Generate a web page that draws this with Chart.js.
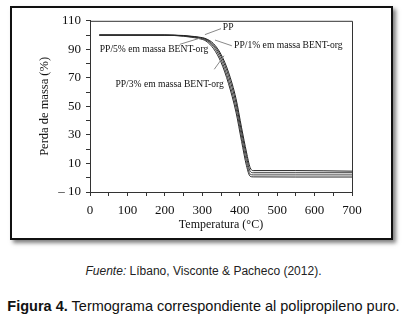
<!DOCTYPE html>
<html><head><meta charset="utf-8">
<script src="https://cdn.jsdelivr.net/npm/chart.js@4"></script>
<style>
body{margin:0;width:407px;height:315px;background:#fff;position:relative;overflow:hidden;}
#frame{position:absolute;left:10px;top:6px;width:379px;height:230px;border:2px solid #111;box-shadow:3px 3px 4px rgba(0,0,0,0.5);background:#fff;}
#frame canvas{display:block}
.cap1{position:absolute;left:0;width:407px;top:264px;text-align:center;font:12px "Liberation Sans",Arial,sans-serif;color:#222;white-space:nowrap;}
.cap2{position:absolute;left:0;width:407px;top:298px;text-align:center;font:14.5px "Liberation Sans",Arial,sans-serif;color:#111;white-space:nowrap;}
</style></head>
<body>
<div id="frame"><canvas id="c" width="379" height="230"></canvas></div>
<div class="cap1"><i>Fuente:</i> Líbano, Visconte &amp; Pacheco (2012).</div>
<div class="cap2"><b>Figura 4.</b> Termograma correspondiente al polipropileno puro.</div>
<script>
// ---- data ----
const temps = [25, 200, 250, 270, 290, 310, 330, 350, 370, 390, 405, 418, 428, 436, 550, 700];
const pp    = [100, 100, 99.7, 99.2, 98.6, 97.4, 94.0, 86.5, 74.0, 55.5, 35.0, 18.0, 7.0, 5.0, 5.0, 4.6];
const pp1   = [100, 100, 99.5, 99.0, 98.4, 97.0, 93.0, 85.0, 71.5, 52.5, 32.0, 15.0, 4.5, 3.5, 3.5, 3.5];
const pp3   = [100, 100, 99.4, 98.8, 98.0, 96.5, 92.0, 83.0, 68.5, 49.0, 28.5, 11.5, 2.5, 2.0, 2.0, 2.0];
const pp5   = [100, 99.9, 99.2, 98.5, 97.6, 95.8, 90.5, 81.0, 66.0, 46.0, 25.5, 8.5, 1.0, 0.6, 0.5, 0.5];
const seriesNames = ["PP", "PP/1% em massa BENT-org", "PP/3% em massa BENT-org", "PP/5% em massa BENT-org"];
const yTickLabels = [-10, 10, 30, 50, 70, 90, 110];
const xTickLabels = [0, 100, 200, 300, 400, 500, 600, 700];

const serif = "'Liberation Serif','Times New Roman',serif";
const toPts = vals => temps.map((t, i) => ({x: t, y: vals[i]}));
const colors = ['#222', '#333', '#444', '#2a2a2a'];

const ds = [pp, pp1, pp3, pp5].map((v, i) => ({
  label: seriesNames[i], data: toPts(v), borderColor: colors[i], borderWidth: 1,
  pointRadius: 0, fill: false, cubicInterpolationMode: 'monotone'
}));

// annotation label placement (data coordinates): text anchor + leader line
const annot = [
  {i: 0, tx: 355, ty: 105.5, lx1: 307, ly1: 100.3, lx2: 350, ly2: 104.5},
  {i: 1, tx: 385, ty: 92.8, lx1: 334, ly1: 96.5, lx2: 379, ly2: 92.5},
  {i: 3, tx: 26, ty: 90, lx1: 240, ly1: 93.5, lx2: 293, ly2: 97.8},
  {i: 2, tx: 68, ty: 65.5, lx1: 332, ly1: 76, lx2: 358, ly2: 85.5}
];

const overlay = {
  id: 'overlay',
  afterDraw(chart) {
    const {ctx, chartArea: a, scales: {x, y}} = chart;
    ctx.save();
    ctx.strokeStyle = '#333'; ctx.lineWidth = 1;
    ctx.beginPath();
    ctx.moveTo(a.left, a.top + 0.5); ctx.lineTo(a.right + 0.5, a.top + 0.5); ctx.lineTo(a.right + 0.5, a.bottom);
    ctx.stroke();
    ctx.font = '9.6px ' + serif; ctx.fillStyle = '#111'; ctx.textBaseline = 'middle'; ctx.textAlign = 'left';
    ctx.strokeStyle = '#888';
    annot.forEach(o => {
      ctx.beginPath();
      ctx.moveTo(x.getPixelForValue(o.lx1), y.getPixelForValue(o.ly1));
      ctx.lineTo(x.getPixelForValue(o.lx2), y.getPixelForValue(o.ly2));
      ctx.stroke();
      ctx.fillText(seriesNames[o.i], x.getPixelForValue(o.tx), y.getPixelForValue(o.ty));
    });
    ctx.restore();
  }
};

new Chart(document.getElementById('c'), {
  type: 'line',
  data: {datasets: ds},
  options: {
    responsive: false, animation: false, events: [],
    layout: {padding: {left: 0, top: 9, right: 39, bottom: 0}},
    plugins: {legend: {display: false}, tooltip: {enabled: false}},
    scales: {
      x: {
        type: 'linear', min: 0, max: 700,
        afterFit: s => { s.height = 46; },
        border: {display: true, color: '#333', width: 1},
        grid: {drawOnChartArea: false, drawTicks: true, tickLength: 4, color: '#333'},
        ticks: {stepSize: 50, autoSkip: false, maxRotation: 0, padding: 7, color: '#111',
          font: {family: serif, size: 13},
          callback: v => xTickLabels.includes(v) ? String(v) : ''},
        title: {display: true, text: 'Temperatura (°C)', color: '#111', font: {family: serif, size: 12},
          padding: {top: 0, bottom: 6}}
      },
      y: {
        type: 'linear', min: -10, max: 110,
        afterFit: s => { s.width = 78; },
        border: {display: true, color: '#333', width: 1},
        grid: {drawOnChartArea: false, drawTicks: true, tickLength: 4, color: '#333'},
        ticks: {stepSize: 10, autoSkip: false, padding: 5, color: '#111',
          font: {family: serif, size: 13},
          callback: v => yTickLabels.includes(v) ? (v < 0 ? '– ' + Math.abs(v) : String(v)) : ''},
        title: {display: true, text: 'Perda de massa (%)', color: '#111', font: {family: serif, size: 12.5},
          padding: {top: 25, bottom: 0}}
      }
    }
  },
  plugins: [overlay]
});
</script>
</body></html>
